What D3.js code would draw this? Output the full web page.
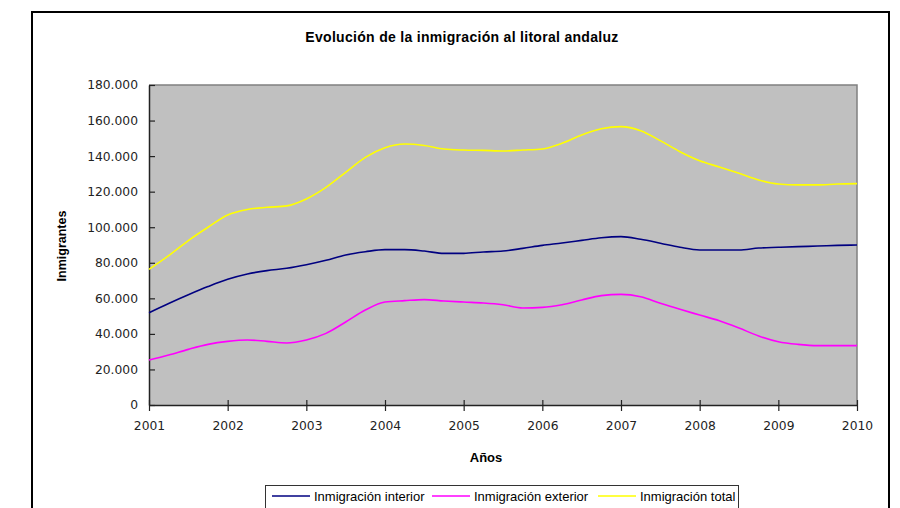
<!DOCTYPE html>
<html><head><meta charset="utf-8">
<script src="https://cdn.jsdelivr.net/npm/d3@7"></script>
<style>
html,body{margin:0;padding:0;background:#fff;}
svg{display:block;}
</style></head>
<body>
<svg id="chart" width="900" height="508"></svg>
<script>
const title = "Evolución de la inmigración al litoral andaluz";
const xTitle = "Años";
const yTitle = "Inmigrantes";
const yearTicks = [2001,2002,2003,2004,2005,2006,2007,2008,2009,2010];
const yTicks = [0,20000,40000,60000,80000,100000,120000,140000,160000,180000];
const timePoints = [2001,2001.25,2001.5,2001.75,2002,2002.25,2002.5,2002.75,2003,2003.25,2003.5,2003.75,
  2004,2004.25,2004.5,2004.75,2005,2005.25,2005.5,2005.75,2006,2006.25,2006.5,2006.75,
  2007,2007.25,2007.5,2007.75,2008,2008.25,2008.5,2008.75,2009,2009.25,2009.5,2009.75,2010];
const interior = [51900,57100,62000,66600,70700,73700,75600,76900,78900,81400,84400,86200,
  87400,87400,86600,85300,85300,86100,86600,88100,89800,91100,92600,94100,
  94700,93200,91000,88700,87200,87200,87200,88300,88700,89100,89400,89800,90000];
const exterior = [25300,28100,31300,34100,35800,36600,35800,34900,36600,40300,46700,53400,
  57900,58700,59300,58500,57900,57400,56400,54600,54900,56400,59100,61500,
  62200,60900,57200,53800,50600,47400,43300,38800,35600,34100,33400,33400,33400];
const total = [76300,84000,92500,100000,106900,110000,111200,112000,115900,122400,130900,139300,
  144700,146800,146000,144000,143400,143200,142900,143400,144000,147200,151900,155400,
  156600,154300,148700,142500,137400,133900,130300,126600,124300,123800,123800,124300,124500];
const seriesNames = ["Inmigración interior","Inmigración exterior","Inmigración total"];
const seriesColors = ["#000080","#FF00FF","#FFFF00"];
const seriesData = [interior, exterior, total];

const svg = d3.select("#chart");
const pLeft = 149, pRight = 857, pTop = 85, pBottom = 405;

// outer frame
svg.append("rect").attr("x",32).attr("y",12).attr("width",857).attr("height",520)
  .attr("fill","#fff").attr("stroke","#000").attr("stroke-width",2);

svg.append("text").attr("x",462).attr("y",42).attr("text-anchor","middle")
  .attr("font-family","Liberation Sans, Arial, sans-serif").attr("font-weight","bold")
  .attr("font-size",14).attr("letter-spacing",0.3).text(title);

const x = d3.scaleLinear().domain([2001,2010]).range([pLeft,pRight]);
const y = d3.scaleLinear().domain([0,180000]).range([pBottom,pTop]);

svg.append("rect").attr("x",pLeft).attr("y",pTop).attr("width",pRight-pLeft).attr("height",pBottom-pTop)
  .attr("fill","#C0C0C0");
svg.append("path").attr("d",`M${pLeft},${pTop}H${pRight}V${pBottom}`).attr("fill","none")
  .attr("stroke","#808080").attr("stroke-width",1.5);

const loc = d3.formatLocale({decimal:",",thousands:".",grouping:[3],currency:["","€"]});
const fmt = loc.format(",d");

const yAxis = svg.append("g").attr("transform",`translate(${pLeft},0)`)
  .call(d3.axisLeft(y).tickValues(yTicks).tickFormat(fmt).tickSizeInner(6).tickSizeOuter(0).tickPadding(5));
yAxis.selectAll(".tick line").attr("x2",6);
const xAxis = svg.append("g").attr("transform",`translate(0,${pBottom})`)
  .call(d3.axisBottom(x).tickValues(yearTicks).tickFormat(d3.format("d")).tickSizeInner(6).tickSizeOuter(0).tickPadding(10));
xAxis.selectAll(".tick line").attr("y1",-5);
[yAxis,xAxis].forEach(g=>{
  g.select(".domain").attr("stroke","#222").attr("stroke-width",1.5);
  g.selectAll(".tick line").attr("stroke","#222").attr("stroke-width",1.2);
  g.selectAll(".tick text").attr("font-family","DejaVu Sans, sans-serif").attr("font-size",12.3).attr("fill","#222");
});

const line = d3.line().x((d,i)=>x(timePoints[i])).y(d=>y(d)).curve(d3.curveMonotoneX);
seriesData.forEach((s,k)=>{
  svg.append("path").datum(s).attr("d",line).attr("fill","none")
    .attr("stroke",seriesColors[k]).attr("stroke-width",1.6);
});

svg.append("text").attr("x",486).attr("y",462).attr("text-anchor","middle")
  .attr("font-family","Liberation Sans, Arial, sans-serif").attr("font-weight","bold")
  .attr("font-size",13).text(xTitle);
svg.append("text").attr("transform","translate(66,246) rotate(-90)").attr("text-anchor","middle")
  .attr("font-family","Liberation Sans, Arial, sans-serif").attr("font-weight","bold")
  .attr("font-size",12.5).text(yTitle);

// legend
const lg = svg.append("g");
lg.append("rect").attr("x",265.5).attr("y",485.5).attr("width",473).attr("height",30)
  .attr("fill","#fff").attr("stroke","#333").attr("stroke-width",1);
const legX = [272,432,598];
seriesNames.forEach((n,k)=>{
  lg.append("line").attr("x1",legX[k]).attr("x2",legX[k]+38).attr("y1",496).attr("y2",496)
    .attr("stroke",seriesColors[k]).attr("stroke-width",1.6);
  lg.append("text").attr("x",legX[k]+42).attr("y",500.5)
    .attr("font-family","Liberation Sans, Arial, sans-serif").attr("font-size",13).text(n);
});
</script>
</body></html>
